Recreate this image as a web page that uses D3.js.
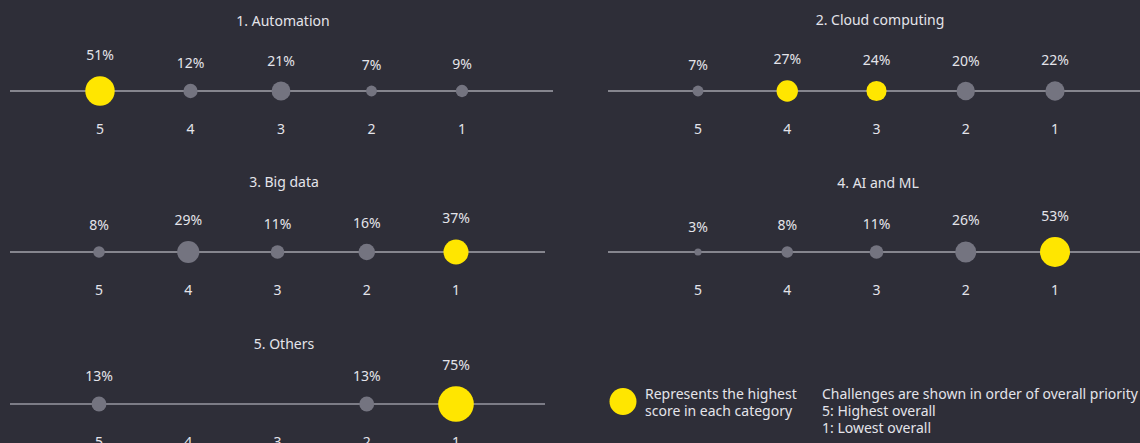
<!DOCTYPE html>
<html>
<head>
<meta charset="utf-8">
<script src="https://cdn.jsdelivr.net/npm/d3@7/dist/d3.min.js"></script>
<style>
  html, body { margin: 0; padding: 0; background: #2e2e38; }
  svg { display: block; }
  text { font-family: "Noto Sans", Lato, sans-serif; fill: #e4e4ea; }
</style>
</head>
<body>
<svg id="chart" width="1140" height="443"></svg>
<script>
// ---- data ----
const ranks = [5, 4, 3, 2, 1];
const titles = ["1. Automation", "2. Cloud computing", "3. Big data", "4. AI and ML", "5. Others"];
const automation = [51, 12, 21, 7, 9];
const cloudComputing = [7, 27, 24, 20, 22];
const bigData = [8, 29, 11, 16, 37];
const aiMl = [3, 8, 11, 26, 53];
const others = [13, null, null, 13, 75];
const highlighted = [
  [true, false, false, false, false],
  [false, true, true, false, false],
  [false, false, false, false, true],
  [false, false, false, false, true],
  [false, false, false, false, true]
];
const legendText = ["Represents the highest", "score in each category"];
const noteText = ["Challenges are shown in order of overall priority", "5: Highest overall", "1: Lowest overall"];

const seriesValues = [automation, cloudComputing, bigData, aiMl, others];

// ---- layout ----
const panels = [
  { line: [10, 553], pts: [100, 462], y: 91, titleY: 26, titleX: 283, lineColor: "#a3a3ab", lineW: 1.3 },
  { line: [608, 1140], pts: [698, 1055], y: 91, titleY: 25, titleX: 880, lineColor: "#a3a3ab", lineW: 1.3 },
  { line: [10, 545], pts: [99, 456], y: 252, titleY: 187, titleX: 284, lineColor: "#a3a3ab", lineW: 1.3 },
  { line: [608, 1140], pts: [698, 1055], y: 252, titleY: 188, titleX: 878, lineColor: "#a3a3ab", lineW: 1.3 },
  { line: [10, 545], pts: [99, 456], y: 404, titleY: 349, titleX: 284, lineColor: "#7c7c86", lineW: 2 }
];

const YELLOW = "#ffe600";
const GREY = "#747480";

const svg = d3.select("#chart");
const r = d3.scaleSqrt().domain([0, 100]).range([0, 20.6]);

panels.forEach((p, i) => {
  const x = d3.scalePoint().domain(ranks).range(p.pts);
  const g = svg.append("g");
  const vals = seriesValues[i];
  const data = ranks.map((k, j) => ({ rank: k, v: vals[j], hi: highlighted[i][j] }));

  g.append("text")
    .attr("x", p.titleX).attr("y", p.titleY)
    .attr("text-anchor", "middle")
    .style("font-size", "14px")
    .text(titles[i]);

  g.append("line")
    .attr("x1", p.line[0]).attr("x2", p.line[1])
    .attr("y1", p.y).attr("y2", p.y)
    .attr("stroke", p.lineColor).attr("stroke-width", p.lineW);

  const pts = data.filter(d => d.v != null);
  g.selectAll("circle").data(pts).join("circle")
    .attr("cx", d => x(d.rank)).attr("cy", p.y)
    .attr("r", d => r(d.v))
    .attr("fill", d => d.hi ? YELLOW : GREY);

  g.selectAll("text.val").data(pts).join("text")
    .attr("class", "val")
    .attr("x", d => x(d.rank))
    .attr("y", d => p.y - r(d.v) - 16)
    .attr("text-anchor", "middle")
    .style("font-size", "14px")
    .text(d => d.v + "%");

  g.selectAll("text.rank").data(data).join("text")
    .attr("class", "rank")
    .attr("x", d => x(d.rank))
    .attr("y", p.y + 43)
    .attr("text-anchor", "middle")
    .style("font-size", "14px")
    .text(d => d.rank);
});

// legend
const lg = svg.append("g");
lg.append("circle").attr("cx", 623).attr("cy", 401.5).attr("r", 13.5).attr("fill", YELLOW);
lg.selectAll("text.l").data(legendText).join("text")
  .attr("class", "l")
  .attr("x", 645).attr("y", (d, i) => 399 + i * 17)
  .style("font-size", "14px")
  .text(d => d);
lg.selectAll("text.n").data(noteText).join("text")
  .attr("class", "n")
  .attr("x", 822).attr("y", (d, i) => 399 + i * 17)
  .style("font-size", "14px")
  .text(d => d);
</script>
</body>
</html>
